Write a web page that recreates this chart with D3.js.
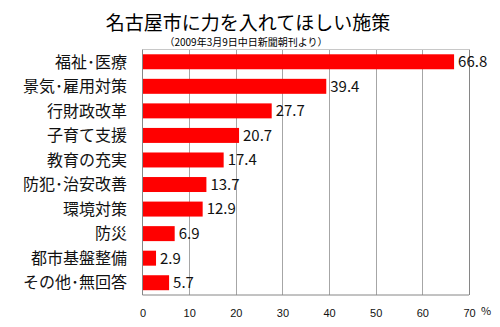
<!DOCTYPE html>
<html><head><meta charset="utf-8">
<script src="https://cdn.jsdelivr.net/npm/d3@7"></script>
<style>html,body{margin:0;padding:0;background:#fff;}svg{display:block;}</style>
</head><body>
<script>
const categories = ["福祉･医療","景気･雇用対策","行財政改革","子育て支援","教育の充実","防犯･治安改善","環境対策","防災","都市基盤整備","その他･無回答"];
const values = [66.8, 39.4, 27.7, 20.7, 17.4, 13.7, 12.9, 6.9, 2.9, 5.7];
const xTicks = [0, 10, 20, 30, 40, 50, 60, 70];
const title = "名古屋市に力を入れてほしい施策";
const subtitle = "（2009年3月9日中日新聞朝刊より）";
const unit = "%";

(function () {
const W = 500, H = 327;
const pL = 142.5, pR = 469, pT = 49.5, pB = 295;
const jp = "'Noto Sans CJK JP', sans-serif";

const svg = d3.select("body").append("svg").attr("width", W).attr("height", H);

const x = d3.scaleLinear().domain([0, 70]).range([pL, pR]);
const y = d3.scaleBand().domain(categories).range([pT, pB]).paddingInner(0.39).paddingOuter(0.195);

// gridlines
svg.append("g").selectAll("line").data(xTicks.filter(d => d > 0)).join("line")
  .attr("x1", d => Math.round(x(d)) + 0.5).attr("x2", d => Math.round(x(d)) + 0.5)
  .attr("y1", pT).attr("y2", pB)
  .attr("stroke", d => d === 70 ? "#868686" : "#a6a6a6").attr("stroke-width", 1);
// top border
svg.append("line").attr("x1", pL).attr("x2", pR).attr("y1", pT).attr("y2", pT)
  .attr("stroke", "#c8c8c8");
// bars
svg.append("g").selectAll("rect").data(values).join("rect")
  .attr("x", x(0)).attr("y", (d, i) => y(categories[i]))
  .attr("width", d => x(d) - x(0)).attr("height", y.bandwidth())
  .attr("fill", "#ff0000");
// axes lines
svg.append("line").attr("x1", pL).attr("x2", pL).attr("y1", pT).attr("y2", pB)
  .attr("stroke", "#868686");
svg.append("line").attr("x1", pL).attr("x2", pR).attr("y1", pB).attr("y2", pB)
  .attr("stroke", "#868686");

// value labels
svg.append("g").selectAll("text").data(values).join("text")
  .attr("x", d => x(d) + 4).attr("y", (d, i) => y(categories[i]) + y.bandwidth() / 2)
  .attr("dy", "0.36em").attr("font-family", jp).attr("font-size", 15).attr("fill", "#111")
  .text(d => d.toFixed(1));

// category labels
svg.append("g").selectAll("text").data(categories).join("text")
  .attr("x", 127).attr("y", d => y(d) + y.bandwidth() / 2)
  .attr("dy", "0.36em").attr("text-anchor", "end")
  .attr("font-family", jp).attr("font-size", 16).attr("fill", "#111")
  .text(d => d);

// x tick labels
const xAxis = d3.axisBottom(x).tickValues(xTicks).tickSize(0).tickPadding(0);
const gx = svg.append("g").attr("transform", `translate(0,${pB + 19})`).call(xAxis);
gx.select(".domain").remove();
gx.selectAll("text").attr("font-family", "'Liberation Sans', sans-serif").attr("font-size", 11).attr("fill", "#111").attr("dy", "0.3em");

// unit
svg.append("text").attr("x", 481).attr("y", 315).attr("font-family", jp).attr("font-size", 11).attr("fill", "#111").text(unit);

// title
svg.append("text").attr("x", 248).attr("y", 30).attr("text-anchor", "middle")
  .attr("font-family", jp).attr("font-size", 19).attr("fill", "#000").text(title);
svg.append("text").attr("x", 246).attr("y", 46).attr("text-anchor", "middle")
  .attr("font-family", jp).attr("font-size", 10).attr("fill", "#000").text(subtitle);
})();
</script>
</body></html>
